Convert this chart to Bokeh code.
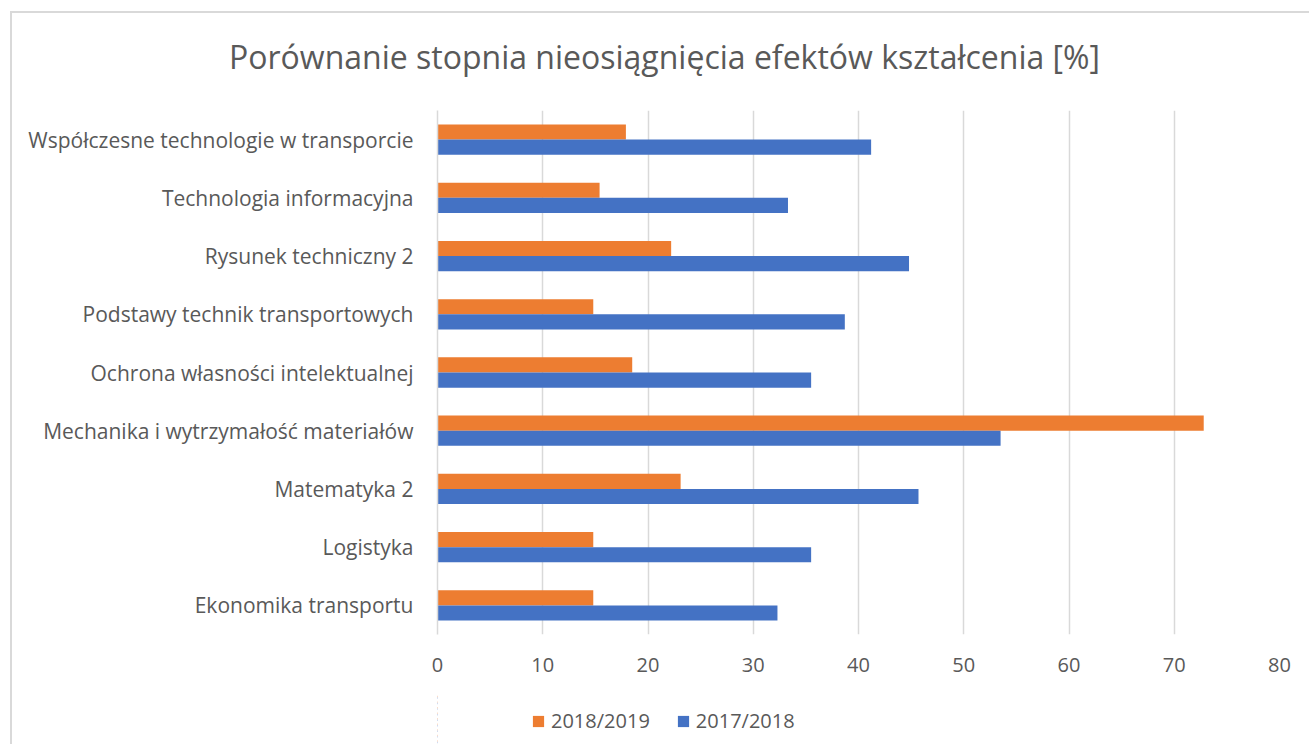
from bokeh.plotting import figure
from bokeh.layouts import column
from bokeh.models import FactorRange, Range1d, Legend, LegendItem, ColumnDataSource, FixedTicker, Label
from bokeh.transform import dodge
from bokeh.embed import file_html
from bokeh.resources import INLINE

categories = [
    "Ekonomika transportu",
    "Logistyka",
    "Matematyka 2",
    "Mechanika i wytrzymałość materiałów",
    "Ochrona własności intelektualnej",
    "Podstawy technik transportowych",
    "Rysunek techniczny 2",
    "Technologia informacyjna",
    "Współczesne technologie w transporcie",
]
values_2018_2019 = [14.8, 14.8, 23.1, 72.8, 18.5, 14.8, 22.2, 15.4, 17.9]
values_2017_2018 = [32.3, 35.5, 45.7, 53.5, 35.5, 38.7, 44.8, 33.3, 41.2]
x_ticks = [0, 10, 20, 30, 40, 50, 60, 70, 80]
series_names = ["2018/2019", "2017/2018"]
title_text = "Porównanie stopnia nieosiągnięcia efektów kształcenia [%]"

FONT = "Open Sans"
GREY = "#595959"
ORANGE = "#ED7D31"
BLUE = "#4472C4"

src = ColumnDataSource(dict(cat=categories, a=values_2018_2019, b=values_2017_2018))

p = figure(
    frame_width=842, frame_height=524,
    y_range=FactorRange(factors=categories),
    x_range=Range1d(0, 80),
    output_backend="svg", toolbar_location=None,
    min_border_left=425, min_border_right=30, min_border_top=97, min_border_bottom=60,
)
p.border_fill_color = "white"
p.background_fill_color = "white"

ra = p.hbar(y=dodge("cat", 0.13, range=p.y_range), right="a", left=0, height=0.26,
            source=src, fill_color=ORANGE, line_color=None)
rb = p.hbar(y=dodge("cat", -0.13, range=p.y_range), right="b", left=0, height=0.26,
            source=src, fill_color=BLUE, line_color=None)

title = Label(x=227, y=54, x_units="screen", y_units="screen", text=title_text,
              text_align="center", text_baseline="middle", text_font=FONT,
              text_font_size="32px", text_color=GREY)
p.add_layout(title, "above")

p.xaxis.ticker = FixedTicker(ticks=x_ticks)
p.xaxis.axis_line_color = None
p.xaxis.major_tick_line_color = None
p.xaxis.minor_tick_line_color = None
p.xaxis.major_label_text_font = FONT
p.xaxis.major_label_text_font_size = "20px"
p.xaxis.major_label_text_color = GREY
p.xaxis.major_label_standoff = 17

p.yaxis.axis_line_color = "#d9d9d9"
p.yaxis.axis_line_width = 1.5
p.yaxis.major_tick_line_color = None
p.yaxis.minor_tick_line_color = None
p.yaxis.major_label_text_font = FONT
p.yaxis.major_label_text_font_size = "21px"
p.yaxis.major_label_text_color = GREY
p.yaxis.major_label_standoff = 18

p.xgrid.grid_line_color = "#d9d9d9"
p.xgrid.grid_line_width = 1.5
p.ygrid.grid_line_color = None
p.outline_line_color = None

# Legend strip: a second figure whose bars lie outside its range, carrying only the legend
pl = figure(
    frame_width=1297, frame_height=50,
    y_range=FactorRange(factors=categories),
    x_range=Range1d(1000, 1001),
    output_backend="svg", toolbar_location=None,
    x_axis_location=None, y_axis_location=None,
    min_border=0, min_border_left=0, min_border_right=0, min_border_top=0, min_border_bottom=0,
)
pl.outline_line_color = None
pl.background_fill_color = "white"
pl.border_fill_color = "white"
pl.grid.visible = False
la = pl.hbar(y=dodge("cat", 0.13, range=pl.y_range), right="a", left=0, height=0.26,
             source=src, fill_color=ORANGE, line_color=None)
lb = pl.hbar(y=dodge("cat", -0.13, range=pl.y_range), right="b", left=0, height=0.26,
             source=src, fill_color=BLUE, line_color=None)

legend = Legend(items=[LegendItem(label=series_names[0], renderers=[la]),
                       LegendItem(label=series_names[1], renderers=[lb])],
                orientation="horizontal", location=(519, 10),
                label_text_font=FONT, label_text_font_size="20px", label_text_color=GREY,
                glyph_width=14, glyph_height=14, spacing=26, border_line_color=None,
                background_fill_alpha=0, margin=0, padding=0, label_standoff=6)
pl.add_layout(legend, "center")

layout = column(p, pl, spacing=0,
                styles={"margin-left": "10px", "margin-top": "11px",
                        "border-left": "2px solid #d9d9d9", "border-top": "2px solid #d9d9d9"})

open("out.html", "w").write(file_html(layout, INLINE))
